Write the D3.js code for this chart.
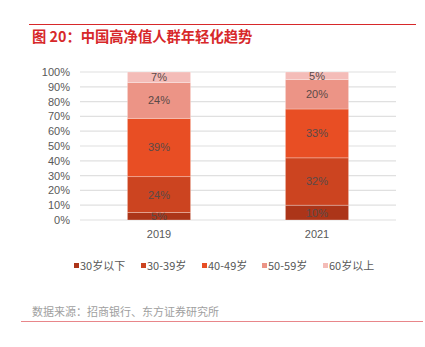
<!DOCTYPE html>
<html>
<head>
<meta charset="utf-8">
<script src="https://cdn.jsdelivr.net/npm/d3@7"></script>
<style>
  body { margin: 0; background: #fff; }
  text { font-family: "Noto Sans CJK SC", "Noto Sans", sans-serif; }
</style>
</head>
<body>
<div id="chart"></div>
<script>
// data
var years = ["2019", "2021"];
var groups = ["30岁以下", "30-39岁", "40-49岁", "50-59岁", "60岁以上"];
var share2019 = [5, 24, 39, 24, 7];
var share2021 = [10, 32, 33, 20, 5];
var yTicks = [0, 0.1, 0.2, 0.3, 0.4, 0.5, 0.6, 0.7, 0.8, 0.9, 1];
var colors = ["#ac3519", "#cc4420", "#e84e24", "#ec9486", "#f4bcb8"];

var W = 425, H = 347;
var margin = {top: 72, right: 29, bottom: 127, left: 80};
var width = W - margin.left - margin.right;
var height = H - margin.top - margin.bottom;

var svg = d3.select("#chart").append("svg")
  .attr("width", W).attr("height", H);

// header line + title
svg.append("line")
  .attr("x1", 29).attr("x2", 416).attr("y1", 24.5).attr("y2", 24.5)
  .attr("stroke", "#d7282a").attr("stroke-width", 1);
svg.append("text")
  .attr("x", 32).attr("y", 42)
  .attr("fill", "#d7282a")
  .style("font-size", "14.3px").style("font-weight", "bold")
  .text("图 20：中国高净值人群年轻化趋势");

// table for stack
var table = years.map(function(y, i) {
  var row = {year: y};
  var vals = i == 0 ? share2019 : share2021;
  groups.forEach(function(g, j) { row[g] = vals[j]; });
  return row;
});

var series = d3.stack().keys(groups).offset(d3.stackOffsetExpand)(table);

var x = d3.scaleBand().domain(years).range([0, width]).paddingInner(0.6).paddingOuter(0.3);
var y = d3.scaleLinear().domain([0, 1]).range([height, 0]);
var color = d3.scaleOrdinal().domain(groups).range(colors);

var g = svg.append("g").attr("transform", "translate(" + margin.left + "," + margin.top + ")");

// grid
g.selectAll(".grid").data(yTicks).enter().append("line")
  .attr("x1", 0).attr("x2", width)
  .attr("y1", function(d) { return y(d); })
  .attr("y2", function(d) { return y(d); })
  .attr("stroke", "#e0e0e0").attr("stroke-width", 1.2);

// y labels
var yAxis = g.append("g")
  .call(d3.axisLeft(y).tickValues(yTicks).tickFormat(d3.format(".0%")).tickSize(0).tickPadding(10));
yAxis.select(".domain").remove();
yAxis.selectAll("text").attr("fill", "#595959").style("font-size", "11px")
  .style("font-family", "'Liberation Sans', Arial, sans-serif");

// x labels
var xAxis = g.append("g").attr("transform", "translate(0," + height + ")")
  .call(d3.axisBottom(x).tickSize(0).tickPadding(10));
xAxis.select(".domain").remove();
xAxis.selectAll("text").attr("fill", "#595959").style("font-size", "11px")
  .style("font-family", "'Liberation Sans', Arial, sans-serif");

// bars
var layer = g.selectAll(".layer").data(series).enter().append("g")
  .attr("fill", function(d) { return color(d.key); });

layer.selectAll("rect").data(function(d) { return d; }).enter().append("rect")
  .attr("x", function(d) { return x(d.data.year); })
  .attr("width", x.bandwidth())
  .attr("y", function(d) { return y(d[1]); })
  .attr("height", function(d) { return y(d[0]) - y(d[1]); })
  .attr("stroke", "rgba(255,255,255,0.35)").attr("stroke-width", 0.8);

// value labels
layer.selectAll("text").data(function(d) {
    return d.map(function(p) { return {p: p, key: d.key}; });
  }).enter().append("text")
  .attr("x", function(d) { return x(d.p.data.year) + x.bandwidth() / 2; })
  .attr("y", function(d) { return (y(d.p[0]) + y(d.p[1])) / 2; })
  .attr("dy", "0.36em")
  .attr("text-anchor", "middle")
  .attr("fill", "#5a4a48")
  .style("font-size", "11px")
  .style("font-family", "'Liberation Sans', Arial, sans-serif")
  .text(function(d) { return d.p.data[d.key] + "%"; });

// legend
var legendX = [74, 141, 202, 262, 323];
var legend = svg.selectAll(".legend").data(groups).enter().append("g")
  .attr("transform", function(d, i) { return "translate(" + legendX[i] + ",266)"; });
legend.append("rect")
  .attr("x", 0).attr("y", -3).attr("width", 5).attr("height", 5)
  .attr("fill", function(d) { return color(d); });
legend.append("text")
  .attr("x", 6).attr("y", 0).attr("dy", "0.36em")
  .attr("fill", "#595959").style("font-size", "11px")
  .text(function(d) { return d; });

// source + bottom line
svg.append("text")
  .attr("x", 32).attr("y", 312).attr("dy", "0.36em")
  .attr("fill", "#a0a0a0").style("font-size", "11px")
  .text("数据来源：招商银行、东方证券研究所");
svg.append("line")
  .attr("x1", 21).attr("x2", 423).attr("y1", 321.5).attr("y2", 321.5)
  .attr("stroke", "#e8868a").attr("stroke-width", 1.2);
</script>
</body>
</html>
